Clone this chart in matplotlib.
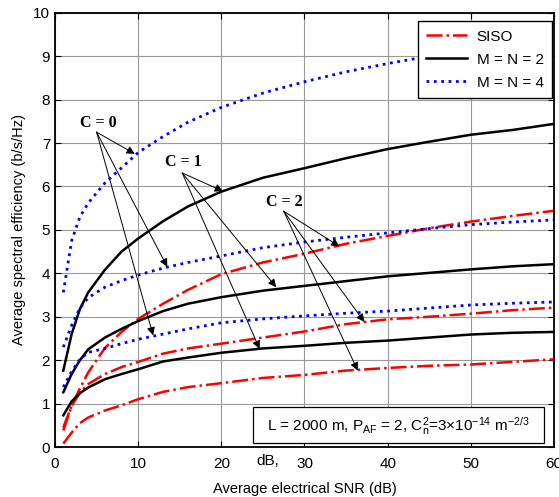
import numpy as np
import matplotlib
matplotlib.use('Agg')
import matplotlib.pyplot as plt
from matplotlib.patches import Rectangle

plt.rcParams['font.family'] = ['Liberation Sans', 'DejaVu Sans']
plt.rcParams['mathtext.default'] = 'regular'

# SNR grid (dB)
snr = [1, 2, 3, 4, 6, 8, 10, 13, 16, 20, 25, 30, 35, 40, 45, 50, 55, 60]

# SISO (red dash-dot)
siso_c0 = [0.45, 0.95, 1.35, 1.72, 2.28, 2.65, 2.95, 3.3, 3.62, 3.98, 4.25, 4.45, 4.68, 4.86, 5.04, 5.19, 5.32, 5.44]
siso_c1 = [0.38, 0.95, 1.25, 1.45, 1.68, 1.84, 1.96, 2.15, 2.27, 2.38, 2.52, 2.66, 2.83, 2.94, 3.0, 3.07, 3.15, 3.21]
siso_c2 = [0.08, 0.33, 0.55, 0.68, 0.84, 0.96, 1.1, 1.27, 1.38, 1.47, 1.59, 1.66, 1.76, 1.82, 1.87, 1.9, 1.96, 2.02]

# M = N = 2 (black solid)
mimo2_c0 = [1.76, 2.6, 3.18, 3.56, 4.08, 4.5, 4.8, 5.2, 5.54, 5.88, 6.2, 6.42, 6.65, 6.86, 7.03, 7.19, 7.3, 7.44]
mimo2_c1 = [1.26, 1.68, 2.0, 2.25, 2.52, 2.72, 2.9, 3.13, 3.3, 3.45, 3.6, 3.71, 3.82, 3.93, 4.01, 4.09, 4.16, 4.21]
mimo2_c2 = [0.73, 1.05, 1.24, 1.37, 1.56, 1.68, 1.79, 1.97, 2.06, 2.17, 2.27, 2.33, 2.4, 2.45, 2.52, 2.59, 2.63, 2.65]

# M = N = 4 (blue dotted)
mimo4_c0 = [3.56, 4.75, 5.3, 5.62, 6.08, 6.43, 6.78, 7.15, 7.48, 7.82, 8.15, 8.41, 8.64, 8.83, 9.0, 9.15, 9.3, 9.43]
mimo4_c1 = [2.3, 2.8, 3.2, 3.44, 3.68, 3.83, 3.96, 4.12, 4.25, 4.4, 4.59, 4.72, 4.83, 4.93, 5.03, 5.12, 5.18, 5.23]
mimo4_c2 = [1.38, 1.74, 2.02, 2.18, 2.27, 2.38, 2.48, 2.6, 2.72, 2.86, 2.95, 3.02, 3.08, 3.13, 3.2, 3.27, 3.31, 3.34]

fig = plt.figure(figsize=(5.59, 4.97), dpi=100)
ax = fig.add_axes([0.0984, 0.1006, 0.8926, 0.8738])

RED = '#ff0000'
BLUE = '#0000ff'

l1, = ax.plot(snr, siso_c0, color=RED, ls='-.', lw=1.8, label='SISO')
ax.plot(snr, siso_c1, color=RED, ls='-.', lw=1.8)
ax.plot(snr, siso_c2, color=RED, ls='-.', lw=1.8)
l2, = ax.plot(snr, mimo2_c0, color='black', ls='-', lw=1.8, label='M = N = 2')
ax.plot(snr, mimo2_c1, color='black', ls='-', lw=1.8)
ax.plot(snr, mimo2_c2, color='black', ls='-', lw=1.8)
l3, = ax.plot(snr, mimo4_c0, color=BLUE, ls=':', lw=2.0, label='M = N = 4')
ax.plot(snr, mimo4_c1, color=BLUE, ls=':', lw=2.0)
ax.plot(snr, mimo4_c2, color=BLUE, ls=':', lw=2.0)

ax.set_xlim(0, 60)
ax.set_ylim(0, 10)
ax.set_xticks(range(0, 61, 10))
ax.set_yticks(range(0, 11))
ax.grid(True, color='0.6', lw=0.8)
ax.tick_params(direction='in', top=True, right=True, labelsize=11, length=4)
ax.tick_params(axis='x', pad=7)
for s in ax.spines.values():
    s.set_linewidth(1.3)

ax.set_xlabel('Average electrical SNR (dB)', fontsize=10.5, labelpad=8)
ax.set_ylabel('Average spectral efficiency (b/s/Hz)', fontsize=10.5, labelpad=5)

leg = ax.legend(handles=[l1, l2, l3], loc='upper right', bbox_to_anchor=(0.996, 0.98),
                borderaxespad=0, fontsize=11, handlelength=2.7, handletextpad=0.6,
                fancybox=False, framealpha=1, edgecolor='black',
                labelspacing=0.58, borderpad=0.55)
leg.get_frame().set_linewidth(1.0)

# curve group labels with arrows
lab_font = dict(fontsize=11.5, fontweight='bold', family='Liberation Serif')
groups = [
    ('C = 0', (5.2, 7.45), (5.0, 7.25), [(9.6, 6.75), (13.5, 4.15), (11.8, 2.57)]),
    ('C = 1', (15.4, 6.56), (15.3, 6.31), [(20.2, 5.89), (26.6, 3.68), (24.6, 2.26)]),
    ('C = 2', (27.6, 5.64), (27.5, 5.43), [(34.2, 4.62), (37.2, 2.88), (36.4, 1.76)]),
]
for txt, tpos, tail, tips in groups:
    ax.text(tpos[0], tpos[1], txt, ha='center', va='center', **lab_font)
    for tip in tips:
        ax.annotate('', xy=tip, xytext=tail,
                    arrowprops=dict(arrowstyle='-|>', color='black', lw=0.7,
                                    mutation_scale=12, shrinkA=0, shrinkB=0))

# parameter box
ax.add_patch(Rectangle((23.8, 0.09), 35.0, 0.83, fill=True, facecolor='white',
                       edgecolor='black', lw=0.9, zorder=3))
ax.text(41.3, 0.49, r'L = 2000 m, P$_{AF}$ = 2, C$_n^2$=3$\times$10$^{-14}$ m$^{-2/3}$',
        ha='center', va='center', fontsize=11, zorder=4)

ax.text(25.6, -0.33, 'dB,', ha='center', va='center', fontsize=11, clip_on=False)

fig.savefig('out.png', dpi=100)
